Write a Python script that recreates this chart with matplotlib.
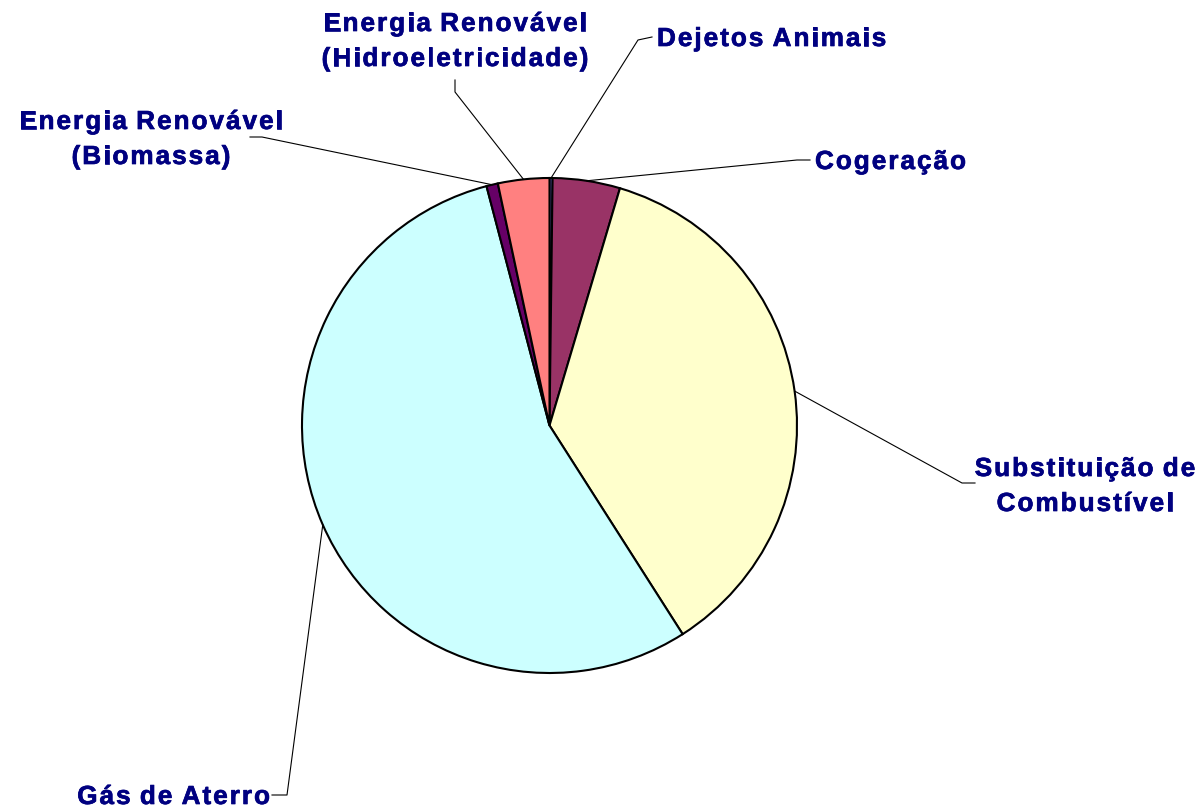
import matplotlib
matplotlib.use('Agg')
import matplotlib.pyplot as plt
import matplotlib.patheffects as pe
from matplotlib.font_manager import FontProperties, findfont, get_font
from matplotlib.ft2font import LoadFlags
import numpy as np

# =============================================================================
# Data (clockwise from 12 o'clock)
# =============================================================================
labels = ['Dejetos Animais', 'Cogeração', 'Substituição de\nCombustível',
          'Gás de Aterro', 'Energia Renovável\n(Biomassa)',
          'Energia Renovável\n(Hidroeletricidade)']
shares = [0.2, 4.4, 36.4, 55.0, 0.75, 3.35]
colors = ['#8080FF', '#993366', '#FFFFCC', '#CCFFFF', '#660066', '#FF8080']

W, H = 1203, 809
fig = plt.figure(figsize=(W/100., H/100.), dpi=100)
ax = fig.add_axes([0, 0, 1, 1])

cx, cy, r = 549.5, H-425.5, 247.5
wedges, _ = ax.pie(shares, colors=colors, startangle=90, counterclock=False,
                   center=(cx, cy), radius=r, frame=True,
                   wedgeprops={'edgecolor': 'black', 'linewidth': 1.5})
ax.set_xlim(0, W)
ax.set_ylim(0, H)
ax.set_aspect('equal')
ax.axis('off')

# spaced-out bold text like the Excel rendering
fsize = 18.8
track = 2.0
prop = FontProperties(family='Liberation Sans', weight='bold', size=fsize)
font = get_font(findfont(prop))
font.set_size(fsize, 100)
stroke = [pe.withStroke(linewidth=0.5, foreground='#000080')]

def advances(s):
    adv = []
    for c in s:
        a = font.load_char(ord(c), flags=LoadFlags.NO_HINTING).linearHoriAdvance/65536.
        if c == ' ':
            a -= 2.
        adv.append(a)
    return adv

def spaced_text(x, ybase, s, ha):
    adv = advances(s)
    total = sum(adv) + track*(len(s)-1)
    if ha == 'center':
        x0 = x - total/2.
    elif ha == 'right':
        x0 = x - total
    else:
        x0 = x
    for c, a in zip(s, adv):
        ax.text(x0, H-ybase, c, ha='left', va='baseline', color='#000080',
                fontproperties=prop, path_effects=stroke)
        x0 += a + track

# elbow point, end of leader, text x, first baseline, alignment (pixels from top)
layout = [
    ((638, 40), (652, 37), 657, 46, 'left'),
    ((797, 160), (810, 160), 815, 169, 'left'),
    ((962, 483), (975, 483), 1085, 476, 'center'),
    ((287, 795), (272, 795), 270, 804, 'right'),
    ((262, 137), (250, 137), 151, 129, 'center'),
    ((455, 92), (455, 80), 455, 31, 'center'),
]
line_gap = 35

for w, lab, (elb, end, tx, ty, ha) in zip(wedges, labels, layout):
    mid = np.deg2rad((w.theta1 + w.theta2) / 2.)
    px = cx + r*np.cos(mid)
    py = cy + r*np.sin(mid)
    ax.plot([px, elb[0], end[0]], [py, H-elb[1], H-end[1]],
            color='black', lw=0.8)
    for k, line in enumerate(lab.split('\n')):
        spaced_text(tx, ty + k*line_gap, line, ha)

fig.savefig('out.png', dpi=100)
